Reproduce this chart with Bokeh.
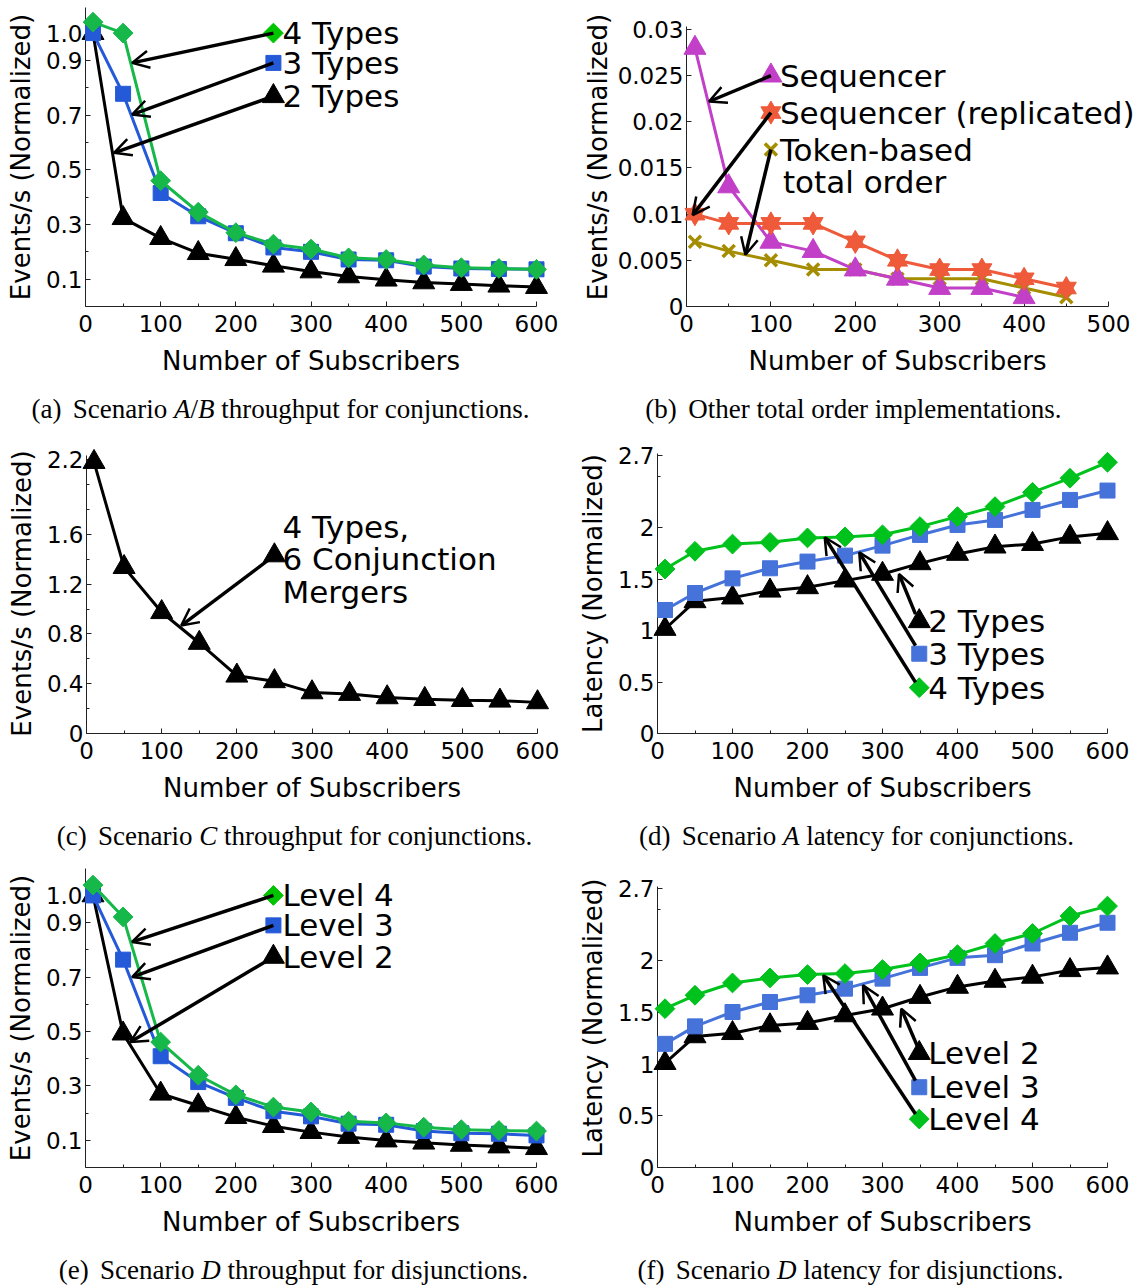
from bokeh.plotting import figure
from bokeh.models import Range1d, FixedTicker, Arrow, OpenHead
from bokeh.layouts import column, row
from bokeh.embed import file_html
from bokeh.resources import INLINE
from bokeh.core.properties import value

# ---------------- data ----------------
subs = [10, 50, 100, 150, 200, 250, 300, 350, 400, 450, 500, 550, 600]

a_types4 = [1.04, 1.00, 0.46, 0.345, 0.27, 0.228, 0.21, 0.178, 0.172, 0.152, 0.142, 0.139, 0.136]
a_types3 = [1.00, 0.778, 0.415, 0.33, 0.268, 0.216, 0.20, 0.172, 0.169, 0.146, 0.139, 0.137, 0.136]
a_types2 = [1.00, 0.323, 0.25, 0.195, 0.173, 0.149, 0.128, 0.11, 0.098, 0.088, 0.082, 0.076, 0.071]

b_subs_seq = [10, 50, 100, 150, 200, 250, 300, 350, 400]
b_subs = [10, 50, 100, 150, 200, 250, 300, 350, 400, 450]
b_sequencer = [0.028, 0.013, 0.007, 0.006, 0.004, 0.003, 0.002, 0.002, 0.001]
b_seq_replicated = [0.010, 0.009, 0.009, 0.009, 0.007, 0.005, 0.004, 0.004, 0.003, 0.002]
b_token = [0.007, 0.006, 0.005, 0.004, 0.004, 0.003, 0.003, 0.003, 0.002, 0.001]

c_types4_mergers = [2.18, 1.336, 0.974, 0.727, 0.464, 0.419, 0.33, 0.317, 0.29, 0.276, 0.268, 0.263, 0.25]

d_types4 = [1.598, 1.77, 1.84, 1.857, 1.9, 1.91, 1.93, 2.01, 2.107, 2.204, 2.343, 2.48, 2.635]
d_types3 = [1.2, 1.365, 1.507, 1.605, 1.67, 1.728, 1.825, 1.929, 2.026, 2.075, 2.172, 2.269, 2.36]
d_types2 = [1.015, 1.284, 1.32, 1.387, 1.42, 1.485, 1.55, 1.653, 1.744, 1.815, 1.84, 1.91, 1.945]

e_level4 = [1.038, 0.921, 0.461, 0.339, 0.267, 0.222, 0.204, 0.17, 0.164, 0.148, 0.139, 0.136, 0.134]
e_level3 = [1.0, 0.764, 0.409, 0.314, 0.256, 0.207, 0.188, 0.161, 0.157, 0.134, 0.126, 0.124, 0.118]
e_level2 = [1.0, 0.492, 0.271, 0.228, 0.185, 0.152, 0.13, 0.112, 0.099, 0.091, 0.083, 0.077, 0.071]

f_level4 = [1.537, 1.667, 1.786, 1.835, 1.867, 1.877, 1.916, 1.98, 2.06, 2.168, 2.265, 2.434, 2.53]
f_level3 = [1.197, 1.366, 1.505, 1.602, 1.667, 1.731, 1.828, 1.932, 2.029, 2.055, 2.168, 2.272, 2.369]
f_level2 = [1.01, 1.269, 1.3, 1.375, 1.398, 1.472, 1.537, 1.65, 1.748, 1.806, 1.845, 1.909, 1.935]

# tick values / labels
x_ticks_600 = [0, 100, 200, 300, 400, 500, 600]
x_minor_600 = [50, 150, 250, 350, 450, 550]
x_ticks_500 = [0, 100, 200, 300, 400, 500]
x_minor_500 = [50, 150, 250, 350, 450]
thr_yticks = [0.1, 0.3, 0.5, 0.7, 0.9, 1.0]
thr_ylabels = ["0.1", "0.3", "0.5", "0.7", "0.9", "1.0"]
thr_yminor = [0.2, 0.4, 0.6, 0.8]
b_yticks = [0, 0.005, 0.01, 0.015, 0.02, 0.025, 0.03]
b_ylabels = ["0", "0.005", "0.01", "0.015", "0.02", "0.025", "0.03"]
c_yticks = [0, 0.4, 0.8, 1.2, 1.6, 2.2]
c_ylabels = ["0", "0.4", "0.8", "1.2", "1.6", "2.2"]
c_yminor = [0.2, 0.6, 1.0, 1.4, 1.8, 2.0]
lat_yticks = [0, 0.5, 1, 1.5, 2, 2.7]
lat_ylabels = ["0", "0.5", "1", "1.5", "2", "2.7"]
lat_yminor = [2.5]

# captions: (text, italic)
cap_a = [("(a)", False), ("Scenario", False), ("A", True), ("/", False), ("B", True),
         ("throughput for conjunctions.", False)]
cap_b = [("(b)", False), ("Other total order implementations.", False)]
cap_c = [("(c)", False), ("Scenario", False), ("C", True), ("throughput for conjunctions.", False)]
cap_d = [("(d)", False), ("Scenario", False), ("A", True), ("latency for conjunctions.", False)]
cap_e = [("(e)", False), ("Scenario", False), ("D", True), ("throughput for disjunctions.", False)]
cap_f = [("(f)", False), ("Scenario", False), ("D", True), ("latency for disjunctions.", False)]

# ---------------- styling ----------------
FONT = "DejaVu Sans"
SERIF = "Liberation Serif"
CAP_SIZE = 27
KEY_SIZE = "31px"
GREEN_A = "#16B84A"
BLUE_A = "#2459D8"
GREEN_D = "#00C21C"
BLUE_D = "#4573DA"
MAGENTA = "#C23FC8"
RED = "#EE5A3A"
OLIVE = "#A48D00"
W = 570

# Times-compatible advance widths (1/1000 em)
TW = {" ": 250, "(": 333, ")": 333, "/": 278, ".": 250, "a": 444, "b": 500, "c": 444, "d": 500,
      "e": 444, "f": 333, "g": 500, "h": 500, "i": 278, "j": 278, "k": 500, "l": 278, "m": 778,
      "n": 500, "o": 500, "p": 500, "r": 333, "s": 389, "t": 278, "u": 500, "v": 500, "y": 500,
      "S": 556, "O": 722}
TWI = {"A": 611, "B": 611, "C": 667, "D": 722}


def text_w(s, italic):
    tab = TWI if italic else TW
    return sum(tab.get(ch, 500) for ch in s) * CAP_SIZE / 1000.0


def make_fig(h, x_end, y_end, bl, br, bt, bb, xt, xm, yt, ylab_txt, ym, ylabel,
             ylab_standoff=7, ybound=None):
    p = figure(width=W, height=h, x_range=Range1d(0, x_end), y_range=Range1d(0, y_end),
               output_backend="svg", toolbar_location=None, title=None,
               min_border_left=bl, min_border_right=br, min_border_top=bt, min_border_bottom=bb)
    p.grid.visible = False
    p.outline_line_color = None
    p.xaxis.ticker = FixedTicker(ticks=xt, minor_ticks=xm)
    p.yaxis.ticker = FixedTicker(ticks=yt, minor_ticks=ym)
    p.yaxis.major_label_overrides = {t: s for t, s in zip(yt, ylab_txt)}
    p.xaxis.major_label_overrides = {t: str(t) for t in xt}
    if ybound is not None:
        p.yaxis.bounds = (0, ybound)
    for ax in (p.xaxis[0], p.yaxis[0]):
        ax.axis_line_color = "#222222"
        ax.axis_line_width = 1
        ax.major_tick_in = 5
        ax.major_tick_out = 0
        ax.minor_tick_in = 3
        ax.minor_tick_out = 0
        ax.major_tick_line_color = "#222222"
        ax.minor_tick_line_color = "#222222"
        ax.major_label_text_font = FONT
        ax.major_label_text_font_size = "23px"
        ax.major_label_text_color = "black"
        ax.axis_label_text_font = FONT
        ax.axis_label_text_font_size = "26px"
        ax.axis_label_text_font_style = "normal"
        ax.axis_label_text_color = "black"
    p.xaxis.axis_label = "Number of Subscribers"
    p.yaxis.axis_label = ylabel
    p.xaxis.major_label_standoff = 8
    p.yaxis.major_label_standoff = 3
    p.xaxis.axis_label_standoff = 11
    p.yaxis.axis_label_standoff = ylab_standoff
    # frame geometry (px) used for captions placed below the frame
    p.tags = [h - bt - bb, y_end]
    return p


def add_marker(p, x, y, color, marker, size, angle=0.0):
    if marker == "hexstar":
        p.scatter(x, y, marker="triangle", size=size, fill_color=color, line_color=color, level="annotation")
        p.scatter(x, y, marker="inverted_triangle", size=size, fill_color=color, line_color=color,
                  level="annotation")
    elif marker == "x":
        p.scatter(x, y, marker="x", size=size, line_color=color, line_width=3.5, level="annotation")
    else:
        p.scatter(x, y, marker=marker, size=size, fill_color=color, line_color=color,
                  angle=angle, level="annotation")


def series(p, x, y, color, marker, size, angle=0.0):
    p.line(x, y, line_color=color, line_width=3, level="annotation")
    add_marker(p, x, y, color, marker, size, angle)


def put_text(p, x, y, text, dx, size=KEY_SIZE, font=FONT, style="normal"):
    p.text(x=[x], y=[y], text=[text], x_offset=dx, text_baseline="middle", text_align="left",
           text_font=value(font), text_font_size=value(size), text_color="black",
           text_font_style=style, level="annotation")


def key(p, x, y, text, color, marker, size, angle=0.0, dx=9):
    if marker is not None:
        add_marker(p, [x], [y], color, marker, size, angle)
    put_text(p, x, y, text, dx)


def arrow(p, x0, y0, x1, y1):
    p.add_layout(Arrow(x_start=x0, y_start=y0, x_end=x1, y_end=y1, line_width=3.5, line_color="black",
                       end=OpenHead(size=17, line_width=2.5, line_color="black")))


def caption(p, pieces, center_px, below_px):
    frame_h, y_end = p.tags
    y_cap = -below_px * y_end / frame_h
    gaps = []
    for i in range(len(pieces) - 1):
        t0, t1 = pieces[i][0], pieces[i + 1][0]
        if i == 0:
            gaps.append(0.42 * CAP_SIZE)
        elif t1 == "/" or t0 == "/":
            gaps.append(0.0)
        else:
            gaps.append(0.25 * CAP_SIZE)
    total = sum(text_w(t, it) for t, it in pieces) + sum(gaps)
    pos = center_px - total / 2.0
    for i, (t, it) in enumerate(pieces):
        put_text(p, 0, y_cap, t, pos, size=f"{CAP_SIZE}px", font=SERIF,
                 style="italic" if it else "normal")
        pos += text_w(t, it) + (gaps[i] if i < len(gaps) else 0)


DIAM = 3.14159265 / 4

# ---- row 1: frames share top 7 / bottom 306 ----
pa = make_fig(431, 600, 1.0936, 85, 34, 7, 125, x_ticks_600, x_minor_600,
              thr_yticks, thr_ylabels, thr_yminor, "Events/s (Normalized)")
arrow(pa, 250, 1.0, 62, 0.891)
arrow(pa, 250, 0.891, 62, 0.702)
arrow(pa, 250, 0.769, 38, 0.562)
series(pa, subs, a_types2, "black", "triangle", 22)
series(pa, subs, a_types3, BLUE_A, "square", 15)
series(pa, subs, a_types4, GREEN_A, "square", 14, angle=DIAM)
key(pa, 250, 1.0, "4 Types", "#00C400", "square", 14, angle=DIAM)
key(pa, 250, 0.891, "3 Types", BLUE_A, "square", 15)
key(pa, 250, 0.769, "2 Types", "black", "triangle", 22)
caption(pa, cap_a, 195, 102)

pb = make_fig(431, 500, 0.03238, 116, 32, 7, 125, x_ticks_500, x_minor_500,
              b_yticks, b_ylabels, [], "Events/s (Normalized)", ylab_standoff=2, ybound=0.0303)
arrow(pb, 100, 0.025, 26.7, 0.0222)
arrow(pb, 100, 0.021, 7.3, 0.0099)
arrow(pb, 100, 0.017, 69.8, 0.0056)
series(pb, b_subs, b_token, OLIVE, "x", 17)
series(pb, b_subs_seq, b_sequencer, MAGENTA, "triangle", 22)
series(pb, b_subs, b_seq_replicated, RED, "hexstar", 20)
key(pb, 100, 0.025, "Sequencer", MAGENTA, "triangle", 22)
key(pb, 100, 0.021, "Sequencer (replicated)", RED, "hexstar", 20)
key(pb, 100, 0.017, "Token-based", OLIVE, "x", 17)
key(pb, 100, 0.01343, "total order", None, None, 0, dx=12)
caption(pb, cap_b, 167, 102)

# ---- row 2: frames share top 453 / bottom 733 ----
pc = make_fig(427, 600, 2.249, 86, 33, 22, 125, x_ticks_600, x_minor_600,
              c_yticks, c_ylabels, c_yminor, "Events/s (Normalized)", ybound=2.233)
arrow(pc, 250, 1.43, 126, 0.867)
series(pc, subs, c_types4_mergers, "black", "triangle", 22)
add_marker(pc, [250], [1.43], "black", "triangle", 22)
for yy, tt in ((1.655, "4 Types,"), (1.405, "6 Conjunction"), (1.133, "Mergers")):
    put_text(pc, 250, yy, tt, 8)
caption(pc, cap_c, 208, 102)

pd_ = make_fig(427, 600, 2.72, 87, 33, 22, 125, x_ticks_600, x_minor_600,
               lat_yticks, lat_ylabels, lat_yminor, "Latency (Normalized)")
arrow(pd_, 344, 1.16, 322, 1.549)
arrow(pd_, 344, 0.853, 269, 1.76)
arrow(pd_, 344, 0.496, 223, 1.906)
series(pd_, subs, d_types2, "black", "triangle", 22)
series(pd_, subs, d_types3, BLUE_D, "square", 15)
series(pd_, subs, d_types4, GREEN_D, "square", 14, angle=DIAM)
key(pd_, 349, 1.09, "2 Types", "black", "triangle", 22)
key(pd_, 349, 0.775, "3 Types", BLUE_D, "square", 15)
key(pd_, 349, 0.445, "4 Types", GREEN_D, "square", 14, angle=DIAM)
caption(pd_, cap_d, 199, 102)

# ---- row 3: frames share top 868 / bottom 1167 ----
pe = make_fig(427, 600, 1.099, 85, 34, 10, 118, x_ticks_600, x_minor_600,
              thr_yticks, thr_ylabels, thr_yminor, "Events/s (Normalized)")
arrow(pe, 250, 1.0, 62, 0.829)
arrow(pe, 250, 0.89, 62, 0.70)
arrow(pe, 250, 0.774, 59.6, 0.461)
series(pe, subs, e_level2, "black", "triangle", 22)
series(pe, subs, e_level3, BLUE_A, "square", 15)
series(pe, subs, e_level4, GREEN_A, "square", 14, angle=DIAM)
key(pe, 250, 1.0, "Level 4", "#00C400", "square", 14, angle=DIAM)
key(pe, 250, 0.89, "Level 3", BLUE_A, "square", 15)
key(pe, 250, 0.774, "Level 2", "black", "triangle", 22)
caption(pe, cap_e, 208, 102)

pf = make_fig(427, 600, 2.894, 87, 33, 10, 118, x_ticks_600, x_minor_600,
              lat_yticks, lat_ylabels, lat_yminor, "Latency (Normalized)", ybound=2.72)
arrow(pf, 347, 1.165, 325, 1.537)
arrow(pf, 344, 0.84, 274, 1.764)
arrow(pf, 344, 0.518, 221, 1.861)
series(pf, subs, f_level2, "black", "triangle", 22)
series(pf, subs, f_level3, BLUE_D, "square", 15)
series(pf, subs, f_level4, GREEN_D, "square", 14, angle=DIAM)
key(pf, 349, 1.107, "Level 2", "black", "triangle", 22)
key(pf, 349, 0.777, "Level 3", BLUE_D, "square", 15)
key(pf, 349, 0.469, "Level 4", GREEN_D, "square", 14, angle=DIAM)
caption(pf, cap_f, 193, 102)

layout = column(row(pa, pb), row(pc, pd_), row(pe, pf))

open("out.html", "w").write(file_html(layout, INLINE))
